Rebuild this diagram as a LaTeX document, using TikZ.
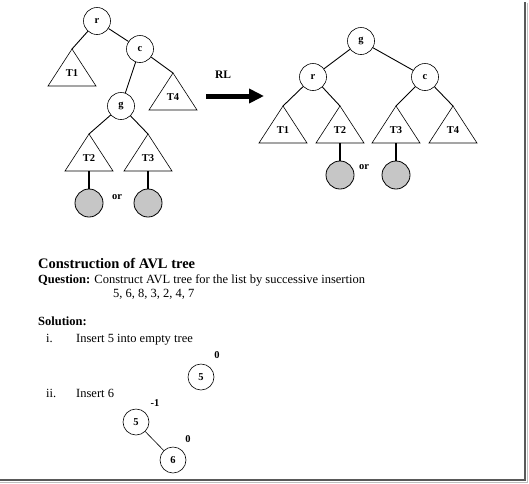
\documentclass[tikz,border=0pt]{standalone}
\usepackage{fontspec}
\setmainfont{Liberation Serif}
\usetikzlibrary{arrows.meta,calc}
\begin{document}
\begin{tikzpicture}[x=1pt,y=-1pt,
  vtx/.style={circle,draw,line width=0.6pt,minimum size=27pt,inner sep=0pt,font=\bfseries\fontsize{10.5}{12}\selectfont},
  leaf/.style={circle,draw,line width=0.8pt,fill=gray!45,minimum size=28pt,inner sep=0pt},
  edge/.style={line width=0.9pt},
  stem/.style={line width=1.8pt},
  tri/.style={line width=0.6pt},
  tlbl/.style={font=\bfseries\fontsize{10.5}{12}\selectfont},
  bal/.style={font=\bfseries\fontsize{10.5}{12}\selectfont},
  txt/.style={anchor=base west,inner sep=0pt,font=\fontsize{12.5}{14}\selectfont},
  frame/.style={line width=2pt,draw=black!65}
]
\useasboundingbox (0,0) rectangle (529,483);
% ---------- left tree ----------
\node[vtx] (r1) at (97,21) {r};
\node[vtx] (c1) at (140,49) {c};
\node[vtx] (g1) at (121,106) {g};
\coordinate (lt1) at (72,49);
\coordinate (lt4) at (173,73);
\coordinate (lt2) at (89,134);
\coordinate (lt3) at (148,134);
\foreach \t/\l in {lt1/T1,lt4/T4,lt2/T2,lt3/T3}{
  \draw[tri] (\t) -- ++(-24,37) -- ++(48,0) -- cycle;
  \node[tlbl] at ($(\t)+(0,24)$) {\l};
}
\draw[edge] (r1) -- (lt1);
\draw[edge] (r1) -- (c1);
\draw[edge] (c1) -- (lt4);
\draw[edge] (c1) -- (g1);
\draw[edge] (g1) -- (lt2);
\draw[edge] (g1) -- (lt3);
\coordinate (lb2) at (89,171);
\coordinate (lb3) at (148,171);
\node[leaf] (lf2) at (89,203) {};
\node[leaf] (lf3) at (148,203) {};
\draw[stem] (lb2) -- (lf2);
\draw[stem] (lb3) -- (lf3);
\node[tlbl] (lor) at (117,197) {or};
% ---------- arrow ----------
\node[tlbl,font=\bfseries\fontsize{11.5}{13}\selectfont] (rl) at (223,75) {RL};
\coordinate (as) at (206,96);
\coordinate (ae) at (264,96);
\draw[line width=5pt,-{Triangle[length=15pt,width=14pt]}] (as) -- (ae);
% ---------- right tree ----------
\node[vtx] (g2) at (361,41) {g};
\node[vtx] (r2) at (313,77) {r};
\node[vtx] (c2) at (425,77) {c};
\coordinate (rt1) at (283,106);
\coordinate (rt2) at (340,106);
\coordinate (rt3) at (396,106);
\coordinate (rt4) at (453,106);
\foreach \t/\l in {rt1/T1,rt2/T2,rt3/T3,rt4/T4}{
  \draw[tri] (\t) -- ++(-24,37) -- ++(48,0) -- cycle;
  \node[tlbl] at ($(\t)+(0,24)$) {\l};
}
\draw[edge] (g2) -- (r2);
\draw[edge] (g2) -- (c2);
\draw[edge] (r2) -- (rt1);
\draw[edge] (r2) -- (rt2);
\draw[edge] (c2) -- (rt3);
\draw[edge] (c2) -- (rt4);
\coordinate (rb2) at (340,143);
\coordinate (rb3) at (396,143);
\node[leaf] (rf2) at (340,175) {};
\node[leaf] (rf3) at (396,175) {};
\draw[stem] (rb2) -- (rf2);
\draw[stem] (rb3) -- (rf3);
\node[tlbl] (ror) at (364,167) {or};
% ---------- text ----------
\node[txt,font=\bfseries\fontsize{14.5}{16}\selectfont] (title) at (38,268) {Construction of AVL tree};
\node[txt] (q) at (38,283) {\textbf{Question:} Construct AVL tree for the list by successive insertion};
\node[txt] (list) at (113,297) {5, 6, 8, 3, 2, 4, 7};
\node[txt,font=\bfseries\fontsize{12.5}{14}\selectfont] (sol) at (38,325) {Solution:};
\node[txt] (i) at (46,342) {i.};
\node[txt] (ins5) at (76,342) {Insert 5 into empty tree};
\node[txt] (ii) at (46,397) {ii.};
\node[txt] (ins6) at (76,397) {Insert 6};
% step i
\node[vtx,minimum size=26pt] (a5) at (201,377) {5};
\node[bal] (a5b) at (217,355) {0};
% step ii
\node[vtx,minimum size=26pt] (b5) at (136,422) {5};
\node[vtx,minimum size=26pt] (b6) at (173,460) {6};
\draw[line width=0.6pt] (b5) -- (b6);
\node[bal] (b5b) at (155,403) {-1};
\node[bal] (b6b) at (188,439) {0};
% ---------- frame ----------
\coordinate (f1) at (525,2);
\coordinate (f2) at (525,480);
\coordinate (f3) at (0,480);
\draw[frame] (f1) -- (f2) -- (f3);
\draw[line width=1pt,draw=black!25] ($(f1)+(2,1)$) -- ($(f2)+(2,2)$) -- ($(f3)+(0,2)$);
\end{tikzpicture}
\end{document}
